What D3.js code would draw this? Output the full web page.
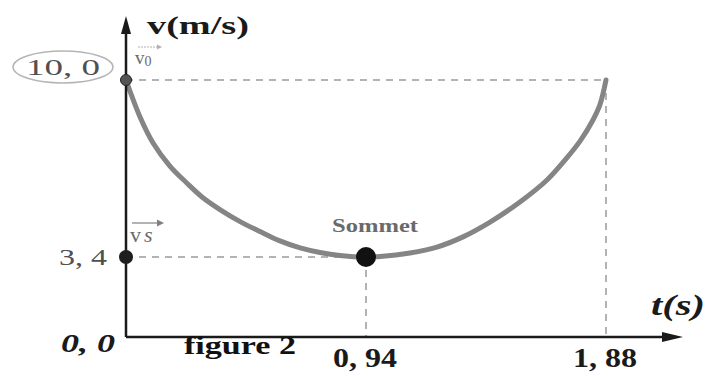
<!DOCTYPE html>
<html>
<head>
<meta charset="utf-8">
<script src="https://cdn.jsdelivr.net/npm/d3@7"></script>
<style>
  body { margin: 0; background: #fff; }
  svg { display: block; }
</style>
</head>
<body>
<svg id="chart" width="719" height="378"></svg>
<script>
// curve: t in s, v in m/s
const times = [0, 0.055, 0.106, 0.172, 0.238, 0.300, 0.368, 0.447, 0.525, 0.603, 0.682, 0.760, 0.838, 0.94,
    0.995, 1.112, 1.218, 1.320, 1.426, 1.543, 1.649, 1.720, 1.779, 1.829, 1.856, 1.88];
const speeds = [10, 8.62, 7.65, 6.79, 6.16, 5.62, 5.17, 4.72, 4.35, 4.0, 3.74, 3.57, 3.46, 3.4,
    3.42, 3.55, 3.77, 4.15, 4.70, 5.45, 6.27, 7.02, 7.73, 8.51, 9.07, 10];

const yTicks = [0, 3.4, 10];
const yTickLabels = ["0, 0", "3, 4", "10, 0"];
const xTicks = [0.94, 1.88];
const xTickLabels = ["0, 94", "1, 88"];
const vertex = {t: 0.94, v: 3.4};
const start = {t: 0, v: 10};
const end = {t: 1.88, v: 10};

const svg = d3.select("#chart");
const serif = "'Liberation Serif', 'DejaVu Serif', serif";

// picture is not drawn to scale, so the y scale is piecewise
const x = d3.scaleLinear().domain([0, 1.88]).range([126, 606]);
const y = d3.scaleLinear().domain([0, 3.4, 10]).range([337, 257, 80]);

const x0 = x(0), y0 = y(0);

// dashed guide lines
const dashed = [
    [start, end],
    [end, {t: end.t, v: 0}],
    [{t: 0, v: vertex.v}, vertex],
    [vertex, {t: vertex.t, v: 0}],
];
svg.append("g")
    .selectAll("line")
    .data(dashed)
    .join("line")
    .attr("x1", d => x(d[0].t))
    .attr("y1", d => y(d[0].v))
    .attr("x2", d => x(d[1].t))
    .attr("y2", d => y(d[1].v))
    .attr("stroke", "#9a9a9a")
    .attr("stroke-width", 1.5)
    .attr("stroke-dasharray", "7,6");

// curve
const line = d3.line()
    .x((d, i) => x(times[i]))
    .y(d => y(d))
    .curve(d3.curveCatmullRom.alpha(0.5));

svg.append("path")
    .datum(speeds)
    .attr("d", line)
    .attr("fill", "none")
    .attr("stroke", "#858585")
    .attr("stroke-width", 5)
    .attr("stroke-linecap", "round");

// axes with arrows
svg.append("line")
    .attr("x1", x0).attr("y1", y0)
    .attr("x2", x0).attr("y2", 30)
    .attr("stroke", "#1a1a1a").attr("stroke-width", 2.5);
svg.append("path")
    .attr("d", `M${x0},16 L${x0 - 5},34 L${x0 + 5},34 Z`)
    .attr("fill", "#1a1a1a");

svg.append("line")
    .attr("x1", x0).attr("y1", y0)
    .attr("x2", 668).attr("y2", y0)
    .attr("stroke", "#1a1a1a").attr("stroke-width", 2.5);
svg.append("path")
    .attr("d", `M683,${y0} L662,${y0 - 5} L662,${y0 + 5} Z`)
    .attr("fill", "#1a1a1a");

// points
svg.append("circle").attr("cx", x(start.t)).attr("cy", y(start.v)).attr("r", 5.5)
    .attr("fill", "#555").attr("stroke", "#222").attr("stroke-width", 1);
svg.append("circle").attr("cx", x0).attr("cy", y(vertex.v)).attr("r", 7)
    .attr("fill", "#1e1e1e");
svg.append("circle").attr("cx", x(vertex.t)).attr("cy", y(vertex.v)).attr("r", 10)
    .attr("fill", "#111");

// y tick labels
svg.append("ellipse")
    .attr("cx", 63).attr("cy", y(10) - 13)
    .attr("rx", 50).attr("ry", 16)
    .attr("fill", "none").attr("stroke", "#b5b5b5").attr("stroke-width", 1.5);

const yOff = {0: 15, 3.4: 8, 10: -5};
svg.selectAll(".ylab")
    .data(yTicks)
    .join("text")
    .attr("class", "ylab")
    .attr("x", d => d === 10 ? 100 : (d === 0 ? 115 : 107))
    .attr("y", d => y(d) + yOff[d])
    .attr("text-anchor", "end")
    .attr("font-family", serif)
    .attr("font-size", d => d === 0 ? 26 : 24)
    .attr("font-style", d => d === 0 ? "italic" : "normal")
    .attr("font-weight", d => d === 0 ? "bold" : "normal")
    .attr("fill", d => d === 0 ? "#1a1a1a" : "#505050")
    .attr("textLength", d => d === 10 ? 74 : (d === 0 ? 54 : 48))
    .attr("lengthAdjust", "spacingAndGlyphs")
    .text((d, i) => yTickLabels[i]);

// x tick labels
svg.selectAll(".xlab")
    .data(xTicks)
    .join("text")
    .attr("class", "xlab")
    .attr("x", d => x(d) - 1)
    .attr("y", 367)
    .attr("text-anchor", "middle")
    .attr("font-family", serif)
    .attr("font-size", 27)
    .attr("font-weight", "bold")
    .attr("fill", "#1a1a1a")
    .attr("textLength", 64)
    .attr("lengthAdjust", "spacingAndGlyphs")
    .text((d, i) => xTickLabels[i]);

// axis titles
svg.append("text")
    .attr("x", 147).attr("y", 34)
    .attr("font-family", serif).attr("font-size", 26).attr("font-weight", "bold")
    .attr("fill", "#1a1a1a")
    .attr("textLength", 102).attr("lengthAdjust", "spacingAndGlyphs")
    .text("v(m/s)");

svg.append("text")
    .attr("x", 651).attr("y", 315)
    .attr("font-family", serif).attr("font-size", 29).attr("font-style", "italic")
    .attr("font-weight", "bold").attr("fill", "#1a1a1a")
    .attr("textLength", 54).attr("lengthAdjust", "spacingAndGlyphs")
    .text("t(s)");

svg.append("text")
    .attr("x", 184).attr("y", 354)
    .attr("font-family", serif).attr("font-size", 26).attr("font-weight", "bold")
    .attr("fill", "#111")
    .attr("textLength", 112).attr("lengthAdjust", "spacingAndGlyphs")
    .text("figure 2");

svg.append("text")
    .attr("x", x(vertex.t) - 34).attr("y", 232)
    .attr("font-family", serif).attr("font-size", 18).attr("font-weight", "bold")
    .attr("fill", "#6a6a6a")
    .attr("textLength", 86).attr("lengthAdjust", "spacingAndGlyphs")
    .text("Sommet");

// vector labels v0 and vs
const v0 = svg.append("text")
    .attr("x", 135).attr("y", 64)
    .attr("font-family", serif).attr("font-size", 19).attr("fill", "#6a6a6a");
v0.append("tspan").text("v");
v0.append("tspan").attr("font-size", 14).attr("dy", 2).text("0");
svg.append("line")
    .attr("x1", 138).attr("y1", 47).attr("x2", 160).attr("y2", 47)
    .attr("stroke", "#b0b0b0").attr("stroke-width", 1).attr("stroke-dasharray", "2,1");
svg.append("path").attr("d", "M162,47 L157,44.5 L157,49.5 Z").attr("fill", "#b0b0b0");

const vs = svg.append("text")
    .attr("x", 130).attr("y", 242)
    .attr("font-family", serif).attr("font-size", 22).attr("fill", "#6a6a6a");
vs.append("tspan").text("v");
vs.append("tspan").attr("font-style", "italic").attr("dx", 3).text("s");
svg.append("line")
    .attr("x1", 132).attr("y1", 223).attr("x2", 160).attr("y2", 223)
    .attr("stroke", "#808080").attr("stroke-width", 1.2);
svg.append("path").attr("d", "M164,223 L157,219.5 L157,226.5 Z").attr("fill", "#808080");
</script>
</body>
</html>
